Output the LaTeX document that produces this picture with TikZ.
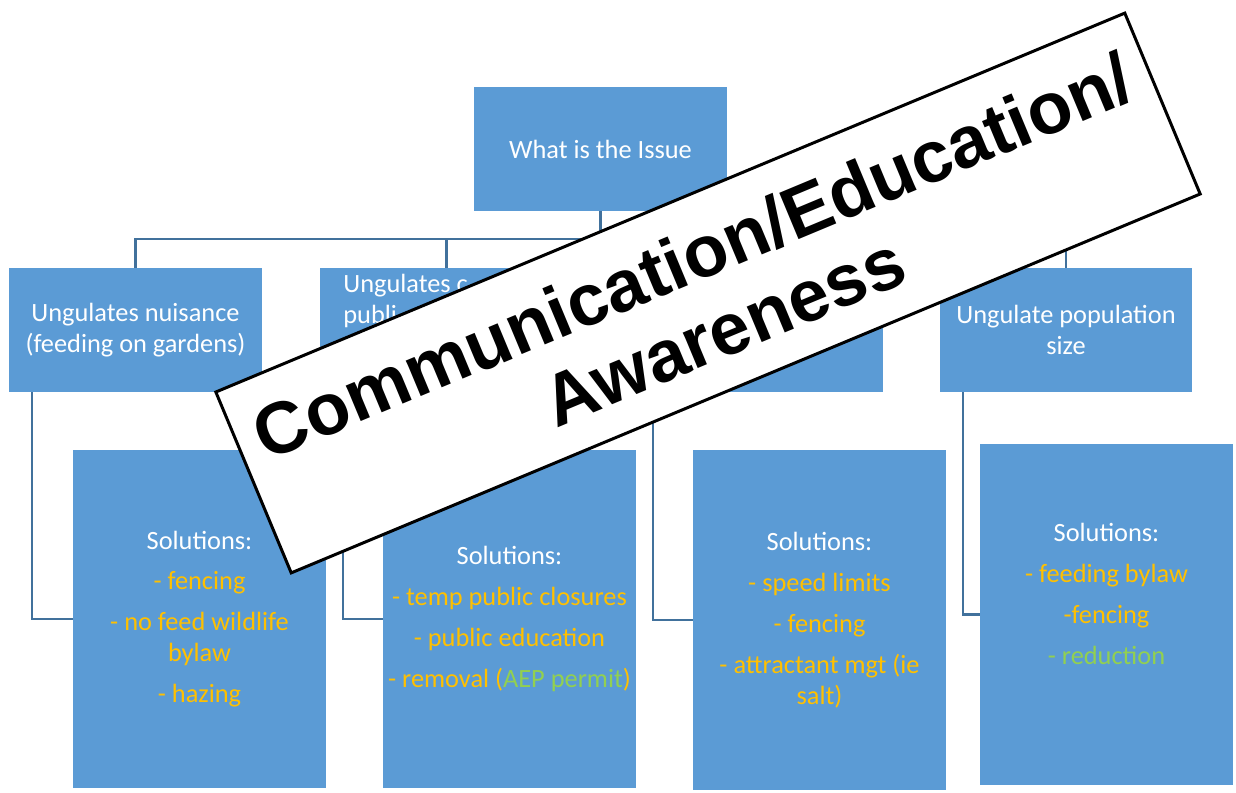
\documentclass[tikz,border=0pt]{standalone}
\usepackage{fontspec}
\setmainfont{Carlito}
\newfontfamily\bannerfont{Liberation Sans}
\usetikzlibrary{positioning,calc}
\definecolor{boxblue}{RGB}{91,155,213}
\definecolor{linkblue}{RGB}{65,113,156}
\definecolor{solyel}{RGB}{255,192,0}
\definecolor{solgrn}{RGB}{146,208,80}
\tikzset{
  issue/.style ={rectangle,fill=boxblue,minimum width=5.06cm,minimum height=2.48cm,inner sep=2pt,
                 text=white,align=center,font=\fontsize{15}{17.6}\selectfont},
  sol/.style   ={issue,minimum height=6.78cm},
  lbl/.style   ={text=white,align=left,inner sep=0pt,font=\fontsize{15}{17.6}\selectfont},
  link/.style  ={linkblue,line width=1.2pt},
  banner/.style={draw=black,line width=1.7pt,fill=white,minimum width=19.7cm,minimum height=3.92cm,
                 inner sep=0pt,align=center,font=\bannerfont\bfseries\fontsize{41.5}{46}\selectfont},
}
\newcommand{\yel}[1]{\textcolor{solyel}{#1}}
\newcommand{\grn}[1]{\textcolor{solgrn}{#1}}
\newcommand{\gap}{\\[5.7pt]}

\begin{document}
\begin{tikzpicture}[x=0.02cm,y=-0.02cm]
  \useasboundingbox (0,0) rectangle (1236,793);
  % top of the tree
  \node[issue] (top) at (600.5,149){What is the Issue};
  % the four issues
  \node[issue] (ug1) at (135.5,330){Ungulates nuisance\\(feeding on gardens)};
  \node[issue] (ug2) at (446.5,330){};
  \node[issue] (ug3) at (756.5,330){};
  \node[issue] (ug4) at (1066,330){Ungulate population\\size};
  \node[lbl,anchor=north west] (ug2t) at (343,274){Ungulates c\\publi};
  % solutions
  \node[sol] (s1) at (199.5,619){Solutions:\gap\yel{- fencing}\gap\yel{- no feed wildlife}\\\yel{bylaw}\gap\yel{- hazing}};
  \node[sol] (s2) at (509.5,619){Solutions:\gap\yel{- temp public closures}\gap\yel{- public education}\gap\yel{- removal (}\grn{AEP permit}\yel{)}};
  \node[sol,minimum height=6.8cm] (s3) at (819.5,620){Solutions:\gap\yel{- speed limits}\gap\yel{- fencing}\gap\yel{- attractant mgt (ie}\\\yel{salt)}};
  \node[sol,minimum height=6.82cm] (s4) at (1106.5,614.5){Solutions:\gap\yel{- feeding bylaw}\gap\yel{-fencing}\gap\grn{- reduction}\gap\mbox{}};
  % connectors
  \coordinate (bus) at (600.5,239);
  \draw[link] (top.south) -- (bus);
  \foreach \n in {ug1,ug2,ug3,ug4} \draw[link] (bus) -| (\n.north);
  \foreach \n/\s in {ug1/s1,ug2/s2,ug3/s3,ug4/s4}
    \draw[link] ([xshift=0.47cm]\n.south west) |- (\s.west);
  % banner on top
  \node[banner,rotate=22.63] (cea) at (708,293){Communication/Education/\\Awareness};
\end{tikzpicture}
\end{document}
